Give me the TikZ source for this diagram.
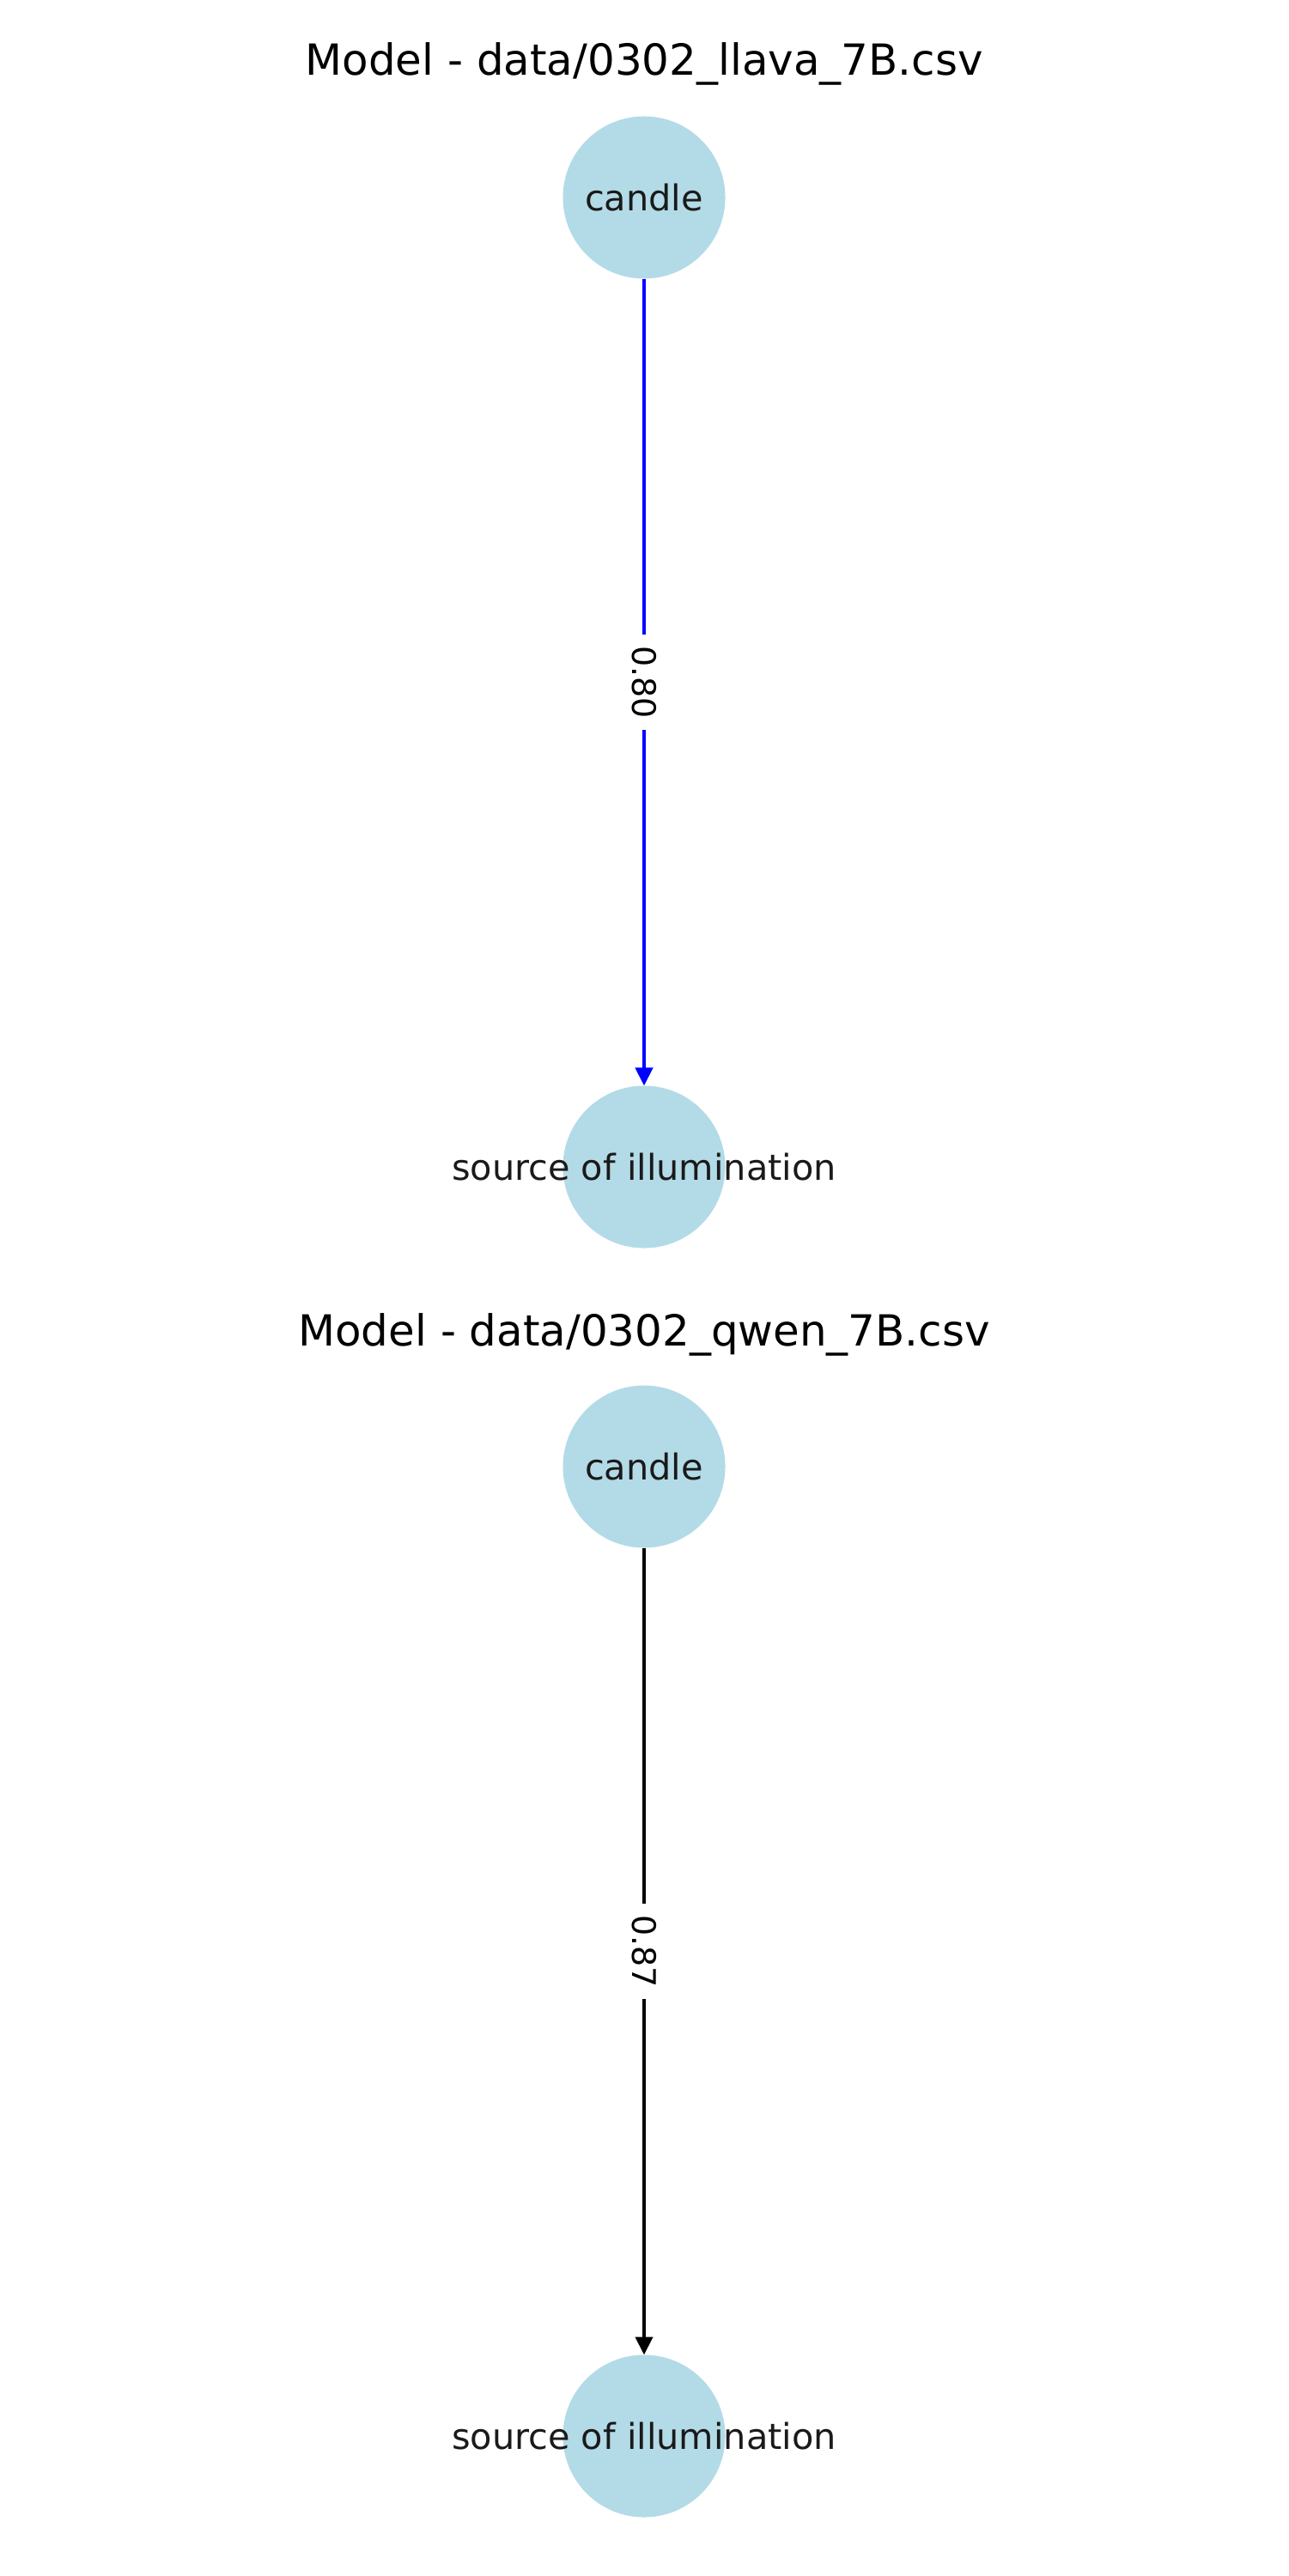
\documentclass[tikz,border=0pt]{standalone}
\usepackage{fontspec}
\setmainfont{DejaVu Sans}
\usetikzlibrary{arrows.meta}
\definecolor{nodeblue}{RGB}{179,219,231}
\definecolor{labelgray}{RGB}{26,26,26}
\begin{document}
\begin{tikzpicture}[x=1cm,y=1cm,
  vertex/.style={circle, fill=nodeblue, draw=nodeblue, line width=0.3pt, minimum size=1.88cm, inner sep=0pt},
  vlabel/.style={font=\fontsize{11.8}{11.8}\selectfont, text=labelgray, inner sep=0pt},
  title/.style={font=\fontsize{14.2}{14.2}\selectfont, anchor=base, inner sep=0pt},
  edgelab/.style={fill=white, text=black, rotate=-90, font=\fontsize{10.8}{10.8}\selectfont, inner xsep=0.13cm, inner ysep=0.05cm},
  edgeline/.style={line width=1.2pt, -{Triangle[length=0.21cm,width=0.2cm]}}]
\useasboundingbox (0,0) rectangle (15,-30);
\fill[white] (0,0) rectangle (15,-30);
% first graph
\node[title] (t1) at (7.5,-0.88) {Model - data/0302\_llava\_7B.csv};
\node[vertex, label={[vlabel]center:candle}] (c1) at (7.5,-2.30) {};
\node[vertex, label={[vlabel]center:source of illumination}] (s1) at (7.5,-13.59) {};
\draw[edgeline, blue] (c1) -- node[edgelab] (l1) {0.80} (s1);
% second graph
\node[title] (t2) at (7.5,-15.67) {Model - data/0302\_qwen\_7B.csv};
\node[vertex, label={[vlabel]center:candle}] (c2) at (7.5,-17.08) {};
\node[vertex, label={[vlabel]center:source of illumination}] (s2) at (7.5,-28.37) {};
\draw[edgeline, black] (c2) -- node[edgelab] (l2) {0.87} (s2);
\end{tikzpicture}
\end{document}
